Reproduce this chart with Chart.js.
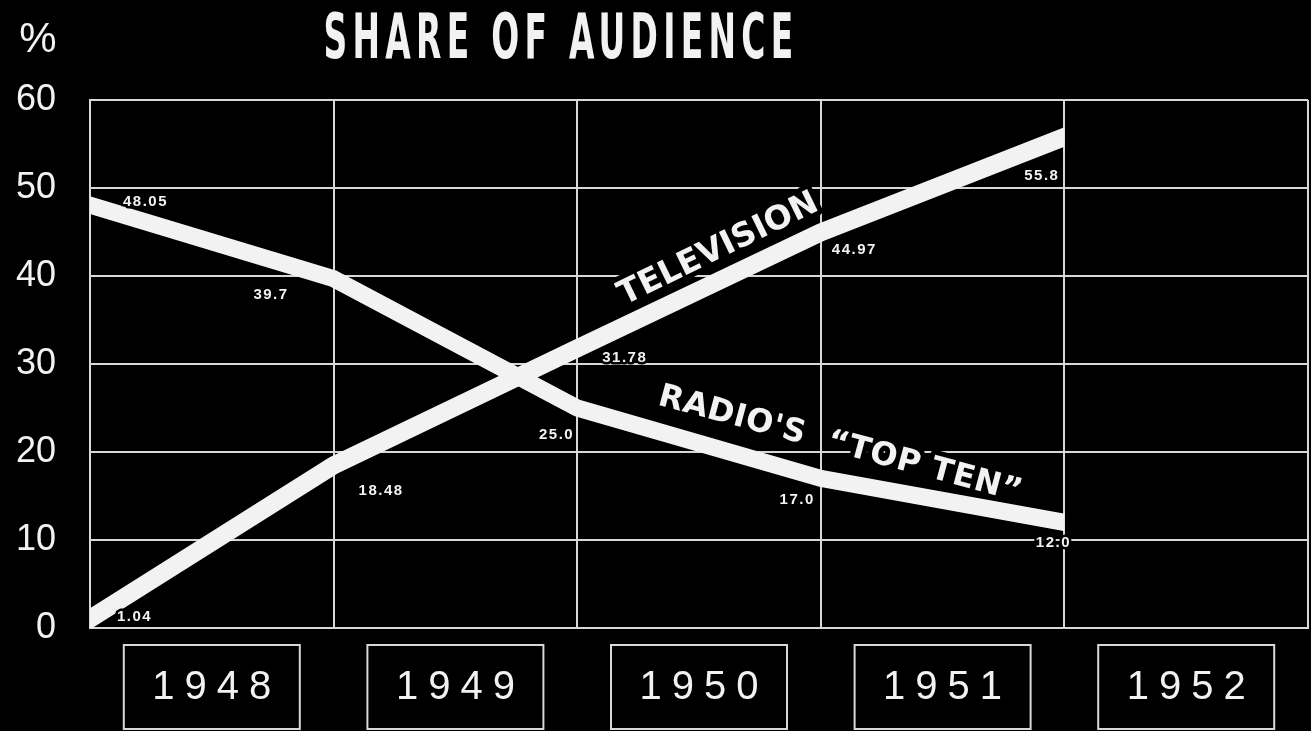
<!DOCTYPE html>
<html>
<head>
<meta charset="utf-8">
<script src="https://cdn.jsdelivr.net/npm/chart.js@4.4.1/dist/chart.umd.min.js"></script>
<style>
  html, body { margin: 0; padding: 0; background: #000; }
  #wrap { width: 1311px; height: 731px; }
</style>
</head>
<body>
<div id="wrap"><canvas id="chart" width="1311" height="731"></canvas></div>
<script>
// data
const years = ["1948", "1949", "1950", "1951", "1952"];
const tvValues = [1.04, 18.48, 31.78, 44.97, 55.8];
const radioValues = [48.05, 39.7, 25.0, 17.0, 12.0];
const tvLabels = ["1.04", "18.48", "31.78", "44.97", "55.8"];
const radioLabels = ["48.05", "39.7", "25.0", "17.0", "12.0"];
const seriesNames = ["TELEVISION", "RADIO'S  \u201CTOP TEN\u201D"];

// label placement (pixels from the point) : dx, dy, align
const tvLabelPos = [[27, -2, "left"], [25, 25, "left"], [25, 10, "left"], [11, 18, "left"], [-5, 39, "right"]];
const radioLabelPos = [[33, -3, "left"], [-45, 16, "right"], [-3, 27, "right"], [-6, 21, "right"], [-11, 20, "center"]];
// where the series names sit, in data units, and their tilt
const nameAnchors = [
  { x: 2.58, y: 43, angle: -26, size: 33, spacing: 0 },
  { x: 3.08, y: 20.8, angle: 15, size: 32, spacing: 0.5 }
];

const WHITE = "#f2f2f2";
const GRID = "#d8d8d8";

const toPoints = (vals) => vals.map((v, i) => ({ x: i, y: v }));

const overlay = {
  id: "overlay",
  beforeDraw(chart) {
    const { ctx, width, height } = chart;
    ctx.save();
    ctx.fillStyle = "#000";
    ctx.fillRect(0, 0, width, height);
    ctx.restore();
  },
  beforeDatasetsDraw(chart) {
    const { ctx, chartArea } = chart;
    const xs = chart.scales.x, ys = chart.scales.y;

    // series names, knocked out of the grid
    nameAnchors.forEach((a, i) => {
      ctx.save();
      ctx.translate(xs.getPixelForValue(a.x), ys.getPixelForValue(a.y));
      ctx.rotate(a.angle * Math.PI / 180);
      ctx.font = "bold " + a.size + "px 'DejaVu Sans'";
      ctx.letterSpacing = a.spacing + "px";
      ctx.textAlign = "center";
      ctx.textBaseline = "middle";
      ctx.lineJoin = "round";
      ctx.strokeStyle = "#000";
      ctx.lineWidth = 10;
      ctx.strokeText(seriesNames[i], 0, 0);
      ctx.fillStyle = WHITE;
      ctx.fillText(seriesNames[i], 0, 0);
      ctx.restore();
    });

    // lines stop flat at the last data column
    ctx.save();
    ctx.beginPath();
    ctx.rect(chartArea.left, chartArea.top - 40,
      xs.getPixelForValue(years.length - 1) - chartArea.left,
      chartArea.bottom - chartArea.top + 80);
    ctx.clip();
  },
  afterDatasetsDraw(chart) {
    const { ctx, chartArea } = chart;
    ctx.restore();
    const xs = chart.scales.x, ys = chart.scales.y;

    // point values
    ctx.save();
    ctx.font = "bold 15px 'Liberation Sans'";
    ctx.letterSpacing = "1.5px";
    ctx.textBaseline = "middle";
    ctx.fillStyle = WHITE;
    ctx.strokeStyle = "#000";
    ctx.lineWidth = 5;
    ctx.lineJoin = "round";
    const drawVals = (vals, labels, pos) => {
      vals.forEach((v, i) => {
        const px = xs.getPixelForValue(i), py = ys.getPixelForValue(v);
        ctx.textAlign = pos[i][2];
        ctx.strokeText(labels[i], px + pos[i][0], py + pos[i][1]);
        ctx.fillText(labels[i], px + pos[i][0], py + pos[i][1]);
      });
    };
    drawVals(tvValues, tvLabels, tvLabelPos);
    drawVals(radioValues, radioLabels, radioLabelPos);
    ctx.restore();

    // year boxes
    ctx.save();
    ctx.strokeStyle = GRID;
    ctx.lineWidth = 2;
    ctx.fillStyle = WHITE;
    ctx.font = "40px 'Liberation Sans'";
    ctx.letterSpacing = "10px";
    ctx.textAlign = "center";
    ctx.textBaseline = "middle";
    const boxW = 176, boxH = 84, top = chartArea.bottom + 17;
    years.forEach((y, i) => {
      const cx = xs.getPixelForValue(i + 0.5);
      ctx.strokeRect(cx - boxW / 2, top, boxW, boxH);
      ctx.fillText(y, cx + 5, top + boxH / 2 + 1);
    });
    ctx.restore();

    // title and unit
    ctx.save();
    ctx.fillStyle = WHITE;
    ctx.textBaseline = "alphabetic";
    ctx.textAlign = "center";
    ctx.font = "bold 62px 'DejaVu Sans Condensed', 'DejaVu Sans'";
    ctx.letterSpacing = "9px";
    const title = "SHARE OF AUDIENCE";
    const w = ctx.measureText(title).width;
    ctx.translate(561, 58);
    ctx.scale(475 / w, 1);
    ctx.fillText(title, 0, 0);
    ctx.restore();

    ctx.save();
    ctx.fillStyle = WHITE;
    ctx.font = "42px 'Liberation Sans'";
    ctx.textAlign = "center";
    ctx.textBaseline = "middle";
    ctx.fillText("%", 38, 40);
    ctx.restore();
  }
};

new Chart(document.getElementById("chart"), {
  type: "line",
  data: {
    datasets: [
      {
        label: "Television",
        data: toPoints(tvValues),
        borderColor: WHITE,
        borderWidth: 18,
        borderCapStyle: "square",
        borderJoinStyle: "round",
        pointRadius: 0,
        tension: 0
      },
      {
        label: "Radio's Top Ten",
        data: toPoints(radioValues),
        borderColor: WHITE,
        borderWidth: 17,
        borderCapStyle: "square",
        borderJoinStyle: "round",
        pointRadius: 0,
        tension: 0
      }
    ]
  },
  options: {
    responsive: false,
    animation: false,
    devicePixelRatio: 1,
    layout: { padding: { top: 100, right: 3, left: 0, bottom: 0 } },
    plugins: { legend: { display: false }, tooltip: { enabled: false } },
    scales: {
      x: {
        type: "linear",
        min: 0,
        max: years.length,
        ticks: { stepSize: 1, display: false },
        grid: { color: GRID, lineWidth: 2, drawTicks: false },
        border: { color: GRID, width: 2 },
        afterFit: (s) => { s.height = 103; }
      },
      y: {
        min: 0,
        max: 60,
        ticks: {
          stepSize: 10,
          color: WHITE,
          padding: 34,
          font: { family: "'Liberation Sans'", size: 36 }
        },
        grid: { color: GRID, lineWidth: 2, drawTicks: false },
        border: { color: GRID, width: 2 },
        afterFit: (s) => { s.width = 90; }
      }
    }
  },
  plugins: [overlay]
});
</script>
</body>
</html>
